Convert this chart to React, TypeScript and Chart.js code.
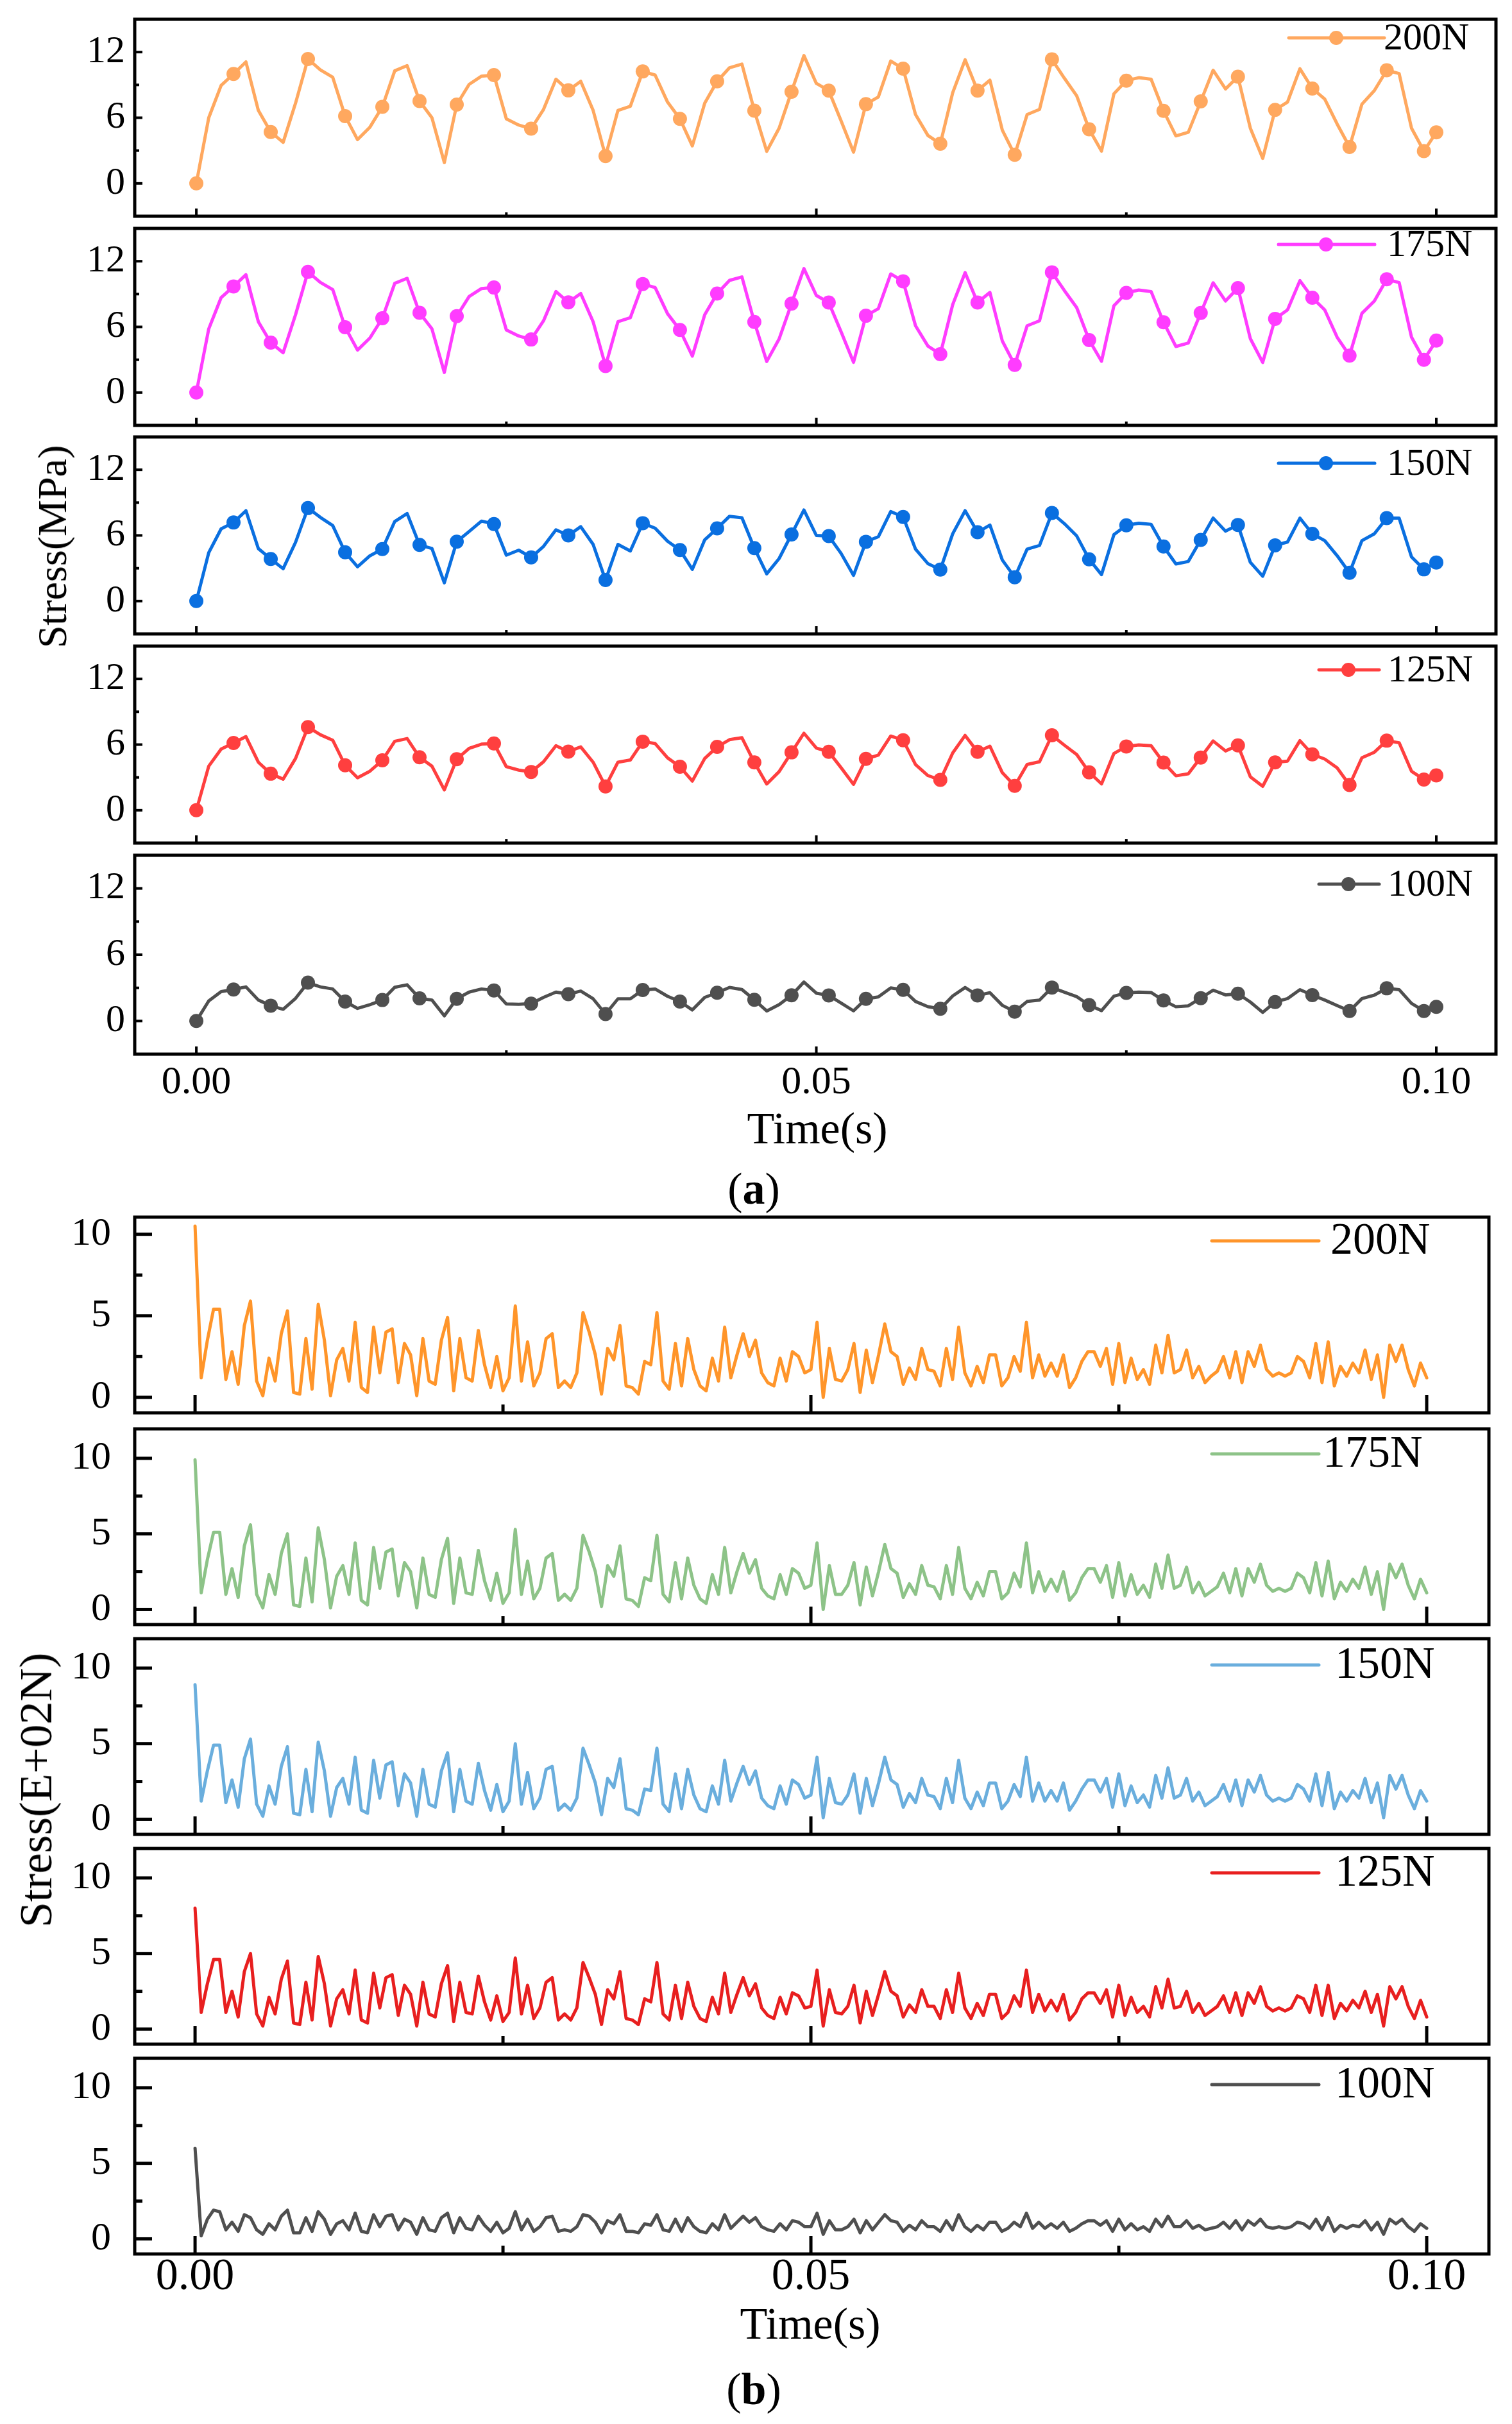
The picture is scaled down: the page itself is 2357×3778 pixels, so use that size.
import React, { useEffect, useRef } from "react";
import { Chart, registerables } from "chart.js";

Chart.register(...registerables);

const FONT = '"Liberation Serif", "Times New Roman", serif';
const PAGE_W = 2357;
const PAGE_H = 3778;

// ---------------- data ----------------
const TIME_STEP_A = 0.001; // s, figure (a)
const TIME_STEP_B = 0.0005; // s, figure (b)
const X_TICKS = [0, 0.05, 0.1];
const X_MINOR = [0.025, 0.075];
const Y_TICKS_A = [0, 6, 12];
const Y_MINOR_A = [3, 9];
const Y_TICKS_B = [0, 5, 10];
const Y_MINOR_B = [2.5, 7.5];
const LOADS = ["200N", "175N", "150N", "125N", "100N"];

const A_200N = [
  0, 6.0, 8.95, 10.0, 11.1, 6.67, 4.7, 3.75, 7.33, 11.37,
  10.38, 9.7, 6.15, 4.0, 5.14, 7.0, 10.29, 10.76, 7.52, 6.0,
  1.9, 7.2, 9.05, 9.8, 9.9, 5.9, 5.33, 5.0, 6.76, 9.52,
  8.5, 9.33, 6.67, 2.5, 6.67, 7.05, 10.23, 9.9, 7.43, 5.9,
  3.43, 7.33, 9.33, 10.57, 10.9, 6.65, 2.93, 5.05, 8.38, 11.68,
  9.14, 8.48, 5.71, 2.86, 7.24, 7.9, 11.18, 10.48, 6.29, 4.38,
  3.62, 8.29, 11.3, 8.48, 9.43, 4.86, 2.61, 6.29, 6.76, 11.33,
  9.62, 8.0, 4.95, 2.95, 8.19, 9.39, 9.66, 9.52, 6.63, 4.34,
  4.67, 7.49, 10.34, 8.63, 9.75, 5.05, 2.29, 6.72, 7.43, 10.48,
  8.67, 7.71, 5.43, 3.33, 7.24, 8.48, 10.34, 10.04, 5.05, 2.95,
  4.67,
];
const A_175N = [
  0, 5.82, 8.68, 9.7, 10.77, 6.47, 4.56, 3.64, 7.11, 11.03,
  10.07, 9.41, 5.97, 3.88, 4.99, 6.79, 9.98, 10.44, 7.29, 5.82,
  1.84, 6.98, 8.78, 9.51, 9.6, 5.72, 5.17, 4.85, 6.56, 9.23,
  8.25, 9.05, 6.47, 2.43, 6.47, 6.84, 9.92, 9.6, 7.21, 5.72,
  3.33, 7.11, 9.05, 10.25, 10.57, 6.45, 2.84, 4.9, 8.13, 11.33,
  8.87, 8.23, 5.54, 2.77, 7.02, 7.66, 10.84, 10.17, 6.1, 4.25,
  3.51, 8.04, 10.96, 8.23, 9.15, 4.71, 2.53, 6.1, 6.56, 10.99,
  9.33, 7.76, 4.8, 2.86, 7.94, 9.11, 9.37, 9.23, 6.43, 4.21,
  4.53, 7.27, 10.03, 8.37, 9.55, 4.93, 2.75, 6.74, 7.55, 10.23,
  8.67, 7.55, 5.06, 3.38, 7.24, 8.36, 10.35, 10.05, 5.06, 3.0,
  4.75,
];
const A_150N = [
  0, 4.42, 6.6, 7.18, 8.26, 4.8, 3.85, 2.96, 5.37, 8.5,
  7.65, 6.9, 4.46, 3.13, 4.14, 4.75, 7.27, 8.0, 5.13, 4.8,
  1.67, 5.43, 6.36, 7.31, 7.04, 4.2, 4.65, 3.99, 5.0, 6.51,
  6.0, 6.8, 5.18, 1.92, 5.18, 4.58, 7.12, 6.66, 5.47, 4.67,
  2.9, 5.6, 6.64, 7.75, 7.61, 4.84, 2.49, 3.89, 6.09, 8.32,
  6.0, 5.94, 4.35, 2.35, 5.42, 5.88, 8.18, 7.69, 4.75, 3.42,
  2.88, 6.15, 8.26, 6.29, 6.95, 3.75, 2.18, 4.75, 5.08, 8.05,
  7.08, 5.95, 3.82, 2.42, 6.08, 6.92, 7.11, 7.01, 4.99, 3.39,
  3.62, 5.59, 7.59, 6.39, 6.96, 3.54, 2.27, 5.09, 5.4, 7.58,
  6.15, 5.52, 4.15, 2.59, 5.52, 6.15, 7.58, 7.58, 4.03, 2.9,
  3.53,
];
const A_125N = [
  0, 4.03, 5.59, 6.15, 6.73, 4.39, 3.34, 2.84, 4.73, 7.6,
  6.9, 6.4, 4.11, 2.97, 3.57, 4.56, 6.3, 6.55, 4.84, 4.03,
  1.86, 4.67, 5.65, 6.04, 6.1, 3.98, 3.67, 3.5, 4.43, 5.9,
  5.36, 5.79, 4.39, 2.18, 4.39, 4.59, 6.27, 6.1, 4.79, 3.98,
  2.67, 4.73, 5.79, 6.45, 6.63, 4.37, 2.4, 3.53, 5.29, 7.04,
  5.69, 5.34, 3.88, 2.37, 4.69, 5.04, 6.78, 6.4, 4.18, 3.17,
  2.77, 5.24, 6.84, 5.34, 5.85, 3.43, 2.23, 4.18, 4.43, 6.85,
  5.95, 5.09, 3.47, 2.41, 5.19, 5.83, 5.97, 5.9, 4.36, 3.15,
  3.33, 4.82, 6.33, 5.42, 5.93, 3.06, 2.19, 4.37, 4.49, 6.36,
  5.11, 4.68, 3.87, 2.31, 4.8, 5.3, 6.36, 6.17, 3.56, 2.81,
  3.18,
];
const A_100N = [
  0, 1.82, 2.66, 2.85, 3.09, 1.9, 1.39, 1.06, 2.05, 3.47,
  3.09, 2.9, 1.76, 1.14, 1.48, 1.9, 3.05, 3.28, 2.05, 1.9,
  0.47, 2.01, 2.62, 2.9, 2.77, 1.54, 1.52, 1.57, 2.14, 2.62,
  2.43, 2.71, 2.01, 0.63, 2.01, 2.01, 2.81, 2.9, 2.24, 1.76,
  1.0, 2.14, 2.56, 3.04, 2.85, 1.92, 0.91, 1.48, 2.33, 3.53,
  2.52, 2.32, 1.63, 0.92, 2.01, 2.18, 3.0, 2.82, 1.77, 1.3,
  1.11, 2.27, 3.03, 2.32, 2.56, 1.42, 0.85, 1.77, 1.89, 3.03,
  2.61, 2.2, 1.44, 0.94, 2.25, 2.55, 2.62, 2.58, 1.86, 1.29,
  1.37, 2.07, 2.79, 2.36, 2.47, 1.72, 0.78, 1.72, 2.03, 2.84,
  2.34, 1.9, 1.4, 0.91, 2.03, 2.34, 2.96, 2.84, 1.59, 0.91,
  1.28,
];

const B_200N = [
  10.5, 1.2, 3.5, 5.4, 5.4, 1.1, 2.8, 0.8, 4.4, 5.9,
  1.0, 0.1, 2.4, 1.0, 3.9, 5.3, 0.3, 0.2, 3.6, 0.5,
  5.7, 3.5, 0.1, 2.3, 3.0, 1.0, 4.6, 0.6, 0.3, 4.3,
  1.5, 4.0, 4.2, 0.9, 3.3, 2.6, 0.1, 3.6, 1.0, 0.8,
  3.5, 4.9, 0.4, 3.6, 1.2, 1.0, 4.1, 2.0, 0.6, 2.5,
  0.4, 1.2, 5.6, 1.0, 3.4, 0.7, 1.5, 3.6, 3.9, 0.6,
  1.0, 0.6, 1.5, 5.2, 4.0, 2.6, 0.2, 3.0, 2.3, 4.4,
  0.7, 0.6, 0.2, 2.2, 2.0, 5.2, 1.0, 0.5, 3.3, 0.7,
  3.6, 1.7, 0.7, 0.4, 2.4, 1.0, 4.3, 1.2, 2.6, 3.9,
  2.5, 3.5, 1.5, 0.9, 0.7, 2.4, 1.0, 2.8, 2.5, 1.5,
  1.7, 4.6, 0.0, 3.0, 1.1, 1.0, 1.7, 3.3, 0.3, 2.9,
  0.9, 2.6, 4.5, 2.8, 2.5, 0.8, 1.8, 1.1, 3.0, 1.7,
  1.6, 0.7, 3.0, 1.1, 4.3, 1.5, 0.7, 1.9, 0.9, 2.6,
  2.6, 0.7, 1.2, 2.5, 1.6, 4.6, 1.2, 2.6, 1.3, 2.1,
  1.3, 2.6, 0.6, 1.2, 2.2, 2.8, 2.8, 1.9, 3.0, 0.8,
  3.3, 0.9, 2.4, 1.1, 1.7, 0.8, 3.2, 1.5, 3.8, 1.5,
  1.7, 2.9, 1.2, 1.9, 0.9, 1.3, 1.6, 2.5, 1.2, 2.8,
  0.9, 2.8, 1.9, 3.2, 1.7, 1.3, 1.5, 1.3, 1.5, 2.5,
  2.2, 1.2, 3.3, 0.9, 3.4, 0.7, 1.9, 1.3, 2.1, 1.5,
  2.9, 1.1, 2.6, 0.0, 3.2, 2.2, 3.2, 1.7, 0.7, 2.1,
  1.2,
];
const B_175N = [
  9.9, 1.1, 3.3, 5.1, 5.1, 1.0, 2.7, 0.8, 4.2, 5.6,
  1.0, 0.1, 2.3, 1.0, 3.7, 5.0, 0.3, 0.2, 3.4, 0.5,
  5.4, 3.3, 0.1, 2.2, 2.9, 1.0, 4.4, 0.6, 0.3, 4.1,
  1.4, 3.8, 4.0, 0.9, 3.1, 2.5, 0.1, 3.4, 1.0, 0.8,
  3.3, 4.7, 0.4, 3.4, 1.1, 1.0, 3.9, 1.9, 0.6, 2.4,
  0.4, 1.1, 5.3, 1.0, 3.2, 0.7, 1.4, 3.4, 3.7, 0.6,
  1.0, 0.6, 1.4, 4.9, 3.8, 2.5, 0.2, 2.9, 2.2, 4.2,
  0.7, 0.6, 0.2, 2.1, 1.9, 4.9, 1.0, 0.5, 3.1, 0.7,
  3.4, 1.6, 0.7, 0.4, 2.3, 1.0, 4.1, 1.1, 2.5, 3.7,
  2.4, 3.3, 1.4, 0.9, 0.7, 2.3, 1.0, 2.7, 2.4, 1.4,
  1.6, 4.4, 0.0, 2.9, 1.0, 1.0, 1.6, 3.1, 0.3, 2.8,
  0.9, 2.5, 4.3, 2.7, 2.4, 0.8, 1.7, 1.0, 2.9, 1.6,
  1.5, 0.7, 2.9, 1.0, 4.1, 1.4, 0.7, 1.8, 0.9, 2.5,
  2.5, 0.7, 1.1, 2.4, 1.5, 4.4, 1.1, 2.5, 1.2, 2.0,
  1.2, 2.5, 0.6, 1.1, 2.1, 2.7, 2.7, 1.8, 2.9, 0.8,
  3.1, 0.9, 2.3, 1.0, 1.6, 0.8, 3.0, 1.4, 3.6, 1.4,
  1.6, 2.8, 1.1, 1.8, 0.9, 1.2, 1.5, 2.4, 1.1, 2.7,
  0.9, 2.7, 1.8, 3.0, 1.6, 1.2, 1.4, 1.2, 1.4, 2.4,
  2.1, 1.1, 3.1, 0.9, 3.2, 0.7, 1.8, 1.2, 2.0, 1.4,
  2.8, 1.0, 2.5, 0.0, 3.0, 2.1, 3.0, 1.6, 0.7, 2.0,
  1.1,
];
const B_150N = [
  8.9, 1.2, 3.2, 4.9, 4.9, 1.1, 2.6, 0.8, 4.0, 5.3,
  1.0, 0.2, 2.2, 1.0, 3.5, 4.8, 0.4, 0.3, 3.3, 0.5,
  5.1, 3.2, 0.2, 2.1, 2.7, 1.0, 4.1, 0.6, 0.4, 3.9,
  1.4, 3.6, 3.8, 0.9, 3.0, 2.4, 0.2, 3.3, 1.0, 0.8,
  3.2, 4.4, 0.5, 3.3, 1.2, 1.0, 3.7, 1.9, 0.6, 2.3,
  0.5, 1.2, 5.0, 1.0, 3.1, 0.7, 1.4, 3.3, 3.5, 0.6,
  1.0, 0.6, 1.4, 4.7, 3.6, 2.4, 0.3, 2.7, 2.1, 4.0,
  0.7, 0.6, 0.3, 2.0, 1.9, 4.7, 1.0, 0.5, 3.0, 0.7,
  3.3, 1.6, 0.7, 0.5, 2.2, 1.0, 3.9, 1.2, 2.4, 3.5,
  2.3, 3.2, 1.4, 0.9, 0.7, 2.2, 1.0, 2.6, 2.3, 1.4,
  1.6, 4.1, 0.1, 2.7, 1.1, 1.0, 1.6, 3.0, 0.4, 2.7,
  0.9, 2.4, 4.1, 2.6, 2.3, 0.8, 1.7, 1.1, 2.7, 1.6,
  1.5, 0.7, 2.7, 1.1, 3.9, 1.4, 0.7, 1.8, 0.9, 2.4,
  2.4, 0.7, 1.2, 2.3, 1.5, 4.1, 1.2, 2.4, 1.2, 1.9,
  1.2, 2.4, 0.6, 1.2, 2.0, 2.6, 2.6, 1.8, 2.7, 0.8,
  3.0, 0.9, 2.2, 1.1, 1.6, 0.8, 2.9, 1.4, 3.4, 1.4,
  1.6, 2.7, 1.2, 1.8, 0.9, 1.2, 1.5, 2.3, 1.2, 2.6,
  0.9, 2.6, 1.8, 2.9, 1.6, 1.2, 1.4, 1.2, 1.4, 2.3,
  2.0, 1.2, 3.0, 0.9, 3.1, 0.7, 1.8, 1.2, 1.9, 1.4,
  2.7, 1.1, 2.4, 0.1, 2.9, 2.0, 2.9, 1.6, 0.7, 1.9,
  1.2,
];
const B_125N = [
  8.0, 1.1, 3.0, 4.6, 4.6, 1.1, 2.5, 0.8, 3.8, 5.0,
  1.0, 0.2, 2.1, 1.0, 3.3, 4.5, 0.4, 0.3, 3.1, 0.6,
  4.8, 3.0, 0.2, 2.0, 2.6, 1.0, 3.9, 0.6, 0.4, 3.7,
  1.4, 3.4, 3.6, 0.9, 2.9, 2.3, 0.2, 3.1, 1.0, 0.8,
  3.0, 4.2, 0.5, 3.1, 1.1, 1.0, 3.5, 1.8, 0.6, 2.2,
  0.5, 1.1, 4.7, 1.0, 2.9, 0.7, 1.4, 3.1, 3.4, 0.6,
  1.0, 0.6, 1.4, 4.4, 3.4, 2.3, 0.3, 2.6, 2.0, 3.8,
  0.7, 0.6, 0.3, 2.0, 1.8, 4.4, 1.0, 0.6, 2.9, 0.7,
  3.1, 1.5, 0.7, 0.5, 2.1, 1.0, 3.7, 1.1, 2.3, 3.4,
  2.2, 3.0, 1.4, 0.9, 0.7, 2.1, 1.0, 2.4, 2.2, 1.4,
  1.5, 3.9, 0.2, 2.6, 1.1, 1.0, 1.5, 2.9, 0.4, 2.5,
  0.9, 2.3, 3.8, 2.5, 2.2, 0.8, 1.6, 1.1, 2.6, 1.5,
  1.5, 0.7, 2.6, 1.1, 3.7, 1.4, 0.7, 1.7, 0.9, 2.3,
  2.3, 0.7, 1.1, 2.2, 1.5, 3.9, 1.1, 2.3, 1.2, 1.9,
  1.2, 2.3, 0.6, 1.1, 2.0, 2.4, 2.4, 1.7, 2.6, 0.8,
  2.9, 0.9, 2.1, 1.1, 1.5, 0.8, 2.8, 1.4, 3.3, 1.4,
  1.5, 2.5, 1.1, 1.7, 0.9, 1.2, 1.5, 2.2, 1.1, 2.4,
  0.9, 2.4, 1.7, 2.8, 1.5, 1.2, 1.4, 1.2, 1.4, 2.2,
  2.0, 1.1, 2.9, 0.9, 2.9, 0.7, 1.7, 1.2, 1.9, 1.4,
  2.5, 1.1, 2.3, 0.2, 2.8, 2.0, 2.8, 1.5, 0.7, 1.9,
  0.8,
];
const B_100N = [
  6.0, 0.2, 1.3, 1.9, 1.8, 0.6, 1.1, 0.5, 1.6, 1.4,
  0.6, 0.3, 1.0, 0.6, 1.5, 1.9, 0.4, 0.4, 1.4, 0.5,
  1.8, 1.3, 0.3, 1.0, 1.2, 0.6, 1.7, 0.5, 0.4, 1.6,
  0.8, 1.5, 1.6, 0.6, 1.3, 1.1, 0.3, 1.4, 0.6, 0.5,
  1.4, 1.7, 0.4, 1.4, 0.7, 0.6, 1.5, 0.9, 0.5, 1.1,
  0.4, 0.7, 1.8, 0.6, 1.3, 0.5, 0.8, 1.4, 1.5, 0.5,
  0.6, 0.5, 0.8, 1.6, 1.5, 1.1, 0.4, 1.2, 1.0, 1.6,
  0.5, 0.5, 0.4, 1.0, 0.9, 1.6, 0.6, 0.5, 1.3, 0.5,
  1.4, 0.8, 0.5, 0.4, 1.0, 0.6, 1.6, 0.7, 1.1, 1.5,
  1.1, 1.4, 0.8, 0.6, 0.5, 1.0, 0.6, 1.2, 1.1, 0.8,
  0.8, 1.7, 0.3, 1.2, 0.6, 0.6, 0.8, 1.3, 0.4, 1.2,
  0.6, 1.1, 1.6, 1.2, 1.1, 0.5, 0.9, 0.6, 1.2, 0.8,
  0.8, 0.5, 1.2, 0.6, 1.6, 0.8, 0.5, 0.9, 0.6, 1.1,
  1.1, 0.5, 0.7, 1.1, 0.8, 1.7, 0.7, 1.1, 0.7, 1.0,
  0.7, 1.1, 0.5, 0.7, 1.0, 1.2, 1.2, 0.9, 1.2, 0.5,
  1.3, 0.6, 1.0, 0.6, 0.8, 0.5, 1.3, 0.8, 1.5, 0.8,
  0.8, 1.2, 0.7, 0.9, 0.6, 0.7, 0.8, 1.1, 0.7, 1.2,
  0.6, 1.2, 0.9, 1.3, 0.8, 0.7, 0.8, 0.7, 0.8, 1.1,
  1.0, 0.7, 1.3, 0.6, 1.4, 0.5, 0.9, 0.7, 0.9, 0.8,
  1.2, 0.6, 1.1, 0.3, 1.3, 1.0, 1.3, 0.8, 0.5, 1.0,
  0.7,
];

const SERIES_A = [A_200N, A_175N, A_150N, A_125N, A_100N];
const SERIES_B = [B_200N, B_175N, B_150N, B_125N, B_100N];

// ---------------- styles / layout ----------------
const COLORS_A = ["#FFA85F", "#FF3CFF", "#0A6FE0", "#FF3F3F", "#4F4F4F"];
const COLORS_B = ["#FF952A", "#8DC388", "#6AAEDD", "#E81F1F", "#4F4F4F"];

const A_TOPS = [27, 353, 678, 1004, 1330];
const A_H = 313;
const B_TOPS = [1897, 2227, 2554, 2881, 3208];
const B_H = 305;
const BOX_LEFT = 210;

const A_LEGEND = [
  { x1: 2009, x2: 2158, xm: 2083, xt: 2157, dy: 29 },
  { x1: 1993, x2: 2143, xm: 2067, xt: 2162, dy: 25 },
  { x1: 1993, x2: 2143, xm: 2067, xt: 2162, dy: 41 },
  { x1: 2056, x2: 2150, xm: 2102, xt: 2163, dy: 37 },
  { x1: 2056, x2: 2150, xm: 2102, xt: 2163, dy: 45 },
];
const B_LEGEND = [
  { x1: 1889, x2: 2056, xm: 0, xt: 2074, dy: 37 },
  { x1: 1889, x2: 2056, xm: 0, xt: 2062, dy: 39 },
  { x1: 1889, x2: 2056, xm: 0, xt: 2081, dy: 41 },
  { x1: 1889, x2: 2056, xm: 0, xt: 2081, dy: 38 },
  { x1: 1889, x2: 2056, xm: 0, xt: 2081, dy: 41 },
];

type Spec = {
  key: string;
  top: number;
  height: number;
  right: number;
  xMin: number;
  xMax: number;
  yMin: number;
  yMax: number;
  yTicks: number[];
  yMinor: number[];
  values: number[];
  step: number;
  color: string;
  label: string;
  markers: boolean;
  isBottom: boolean;
  xFont: number;
  xPad: number;
  yFont: number;
  yPad: number;
  yMajLen: number;
  yMinLen: number;
  xMajLen: number;
  xMinLen: number;
  tickW: number;
  legend: { x1: number; x2: number; xm: number; xt: number; dy: number };
  legendFont: number;
};

const PAD = 8;
const AX_H = 90;

function Panel({ s }: { s: Spec }) {
  const ref = useRef<HTMLCanvasElement | null>(null);
  const canvasH = PAD + s.height + (s.isBottom ? AX_H : PAD);
  useEffect(() => {
    if (!ref.current) return;
    const pts = s.values.map((v, i) => ({ x: +(i * s.step).toFixed(5), y: v }));
    const radii = s.values.map((_, i) =>
      s.markers && (i % 3 === 0 || i === s.values.length - 1) ? 11 : 0
    );
    const decor = {
      id: "decor" + s.key,
      afterDraw(chart: any) {
        const { ctx, chartArea: ca, scales } = chart;
        const xs = scales.x;
        const ys = scales.y;
        ctx.save();
        ctx.strokeStyle = "#000";
        ctx.lineCap = "butt";
        ctx.lineWidth = s.tickW;
        const seg = (x1: number, y1: number, x2: number, y2: number) => {
          ctx.beginPath();
          ctx.moveTo(x1, y1);
          ctx.lineTo(x2, y2);
          ctx.stroke();
        };
        s.yTicks.forEach((v) => {
          const y = ys.getPixelForValue(v);
          seg(ca.left, y, ca.left + s.yMajLen, y);
        });
        s.yMinor.forEach((v) => {
          const y = ys.getPixelForValue(v);
          seg(ca.left, y, ca.left + s.yMinLen, y);
        });
        X_TICKS.forEach((v) => {
          const x = xs.getPixelForValue(v);
          seg(x, ca.bottom, x, ca.bottom - s.xMajLen);
        });
        X_MINOR.forEach((v) => {
          const x = xs.getPixelForValue(v);
          seg(x, ca.bottom, x, ca.bottom - s.xMinLen);
        });
        ctx.lineWidth = 5;
        ctx.strokeRect(ca.left, ca.top, ca.right - ca.left, ca.bottom - ca.top);
        // legend
        const L = s.legend;
        const ly = ca.top + L.dy;
        ctx.strokeStyle = s.color;
        ctx.lineWidth = 5;
        ctx.lineCap = "round";
        seg(L.x1, ly, L.x2, ly);
        if (s.markers) {
          ctx.fillStyle = s.color;
          ctx.beginPath();
          ctx.arc(L.xm, ly, 11, 0, Math.PI * 2);
          ctx.fill();
        }
        ctx.fillStyle = "#000";
        ctx.font = `${s.legendFont}px ${FONT}`;
        ctx.textAlign = "left";
        ctx.textBaseline = "middle";
        ctx.fillText(s.label, L.xt, ly + 2);
        ctx.restore();
      },
    };
    const chart = new Chart(ref.current, {
      type: "line",
      data: {
        datasets: [
          {
            label: s.label,
            data: pts,
            borderColor: s.color,
            backgroundColor: s.color,
            borderWidth: 5,
            pointRadius: radii,
            pointHoverRadius: 0,
            pointBackgroundColor: s.color,
            pointBorderWidth: 0,
            tension: 0,
            fill: false,
            borderJoinStyle: "round",
            borderCapStyle: "round",
          } as any,
        ],
      },
      options: {
        responsive: false,
        maintainAspectRatio: false,
        animation: false,
        devicePixelRatio: 1,
        events: [],
        layout: {
          padding: {
            left: 0,
            top: PAD,
            right: PAGE_W - s.right,
            bottom: s.isBottom ? 0 : PAD,
          },
        },
        plugins: {
          legend: { display: false },
          tooltip: { enabled: false },
          title: { display: false },
        },
        scales: {
          x: {
            type: "linear",
            min: s.xMin,
            max: s.xMax,
            display: s.isBottom,
            grid: { display: false, drawTicks: false, tickLength: 0 },
            border: { display: false },
            ticks: {
              display: s.isBottom,
              autoSkip: false,
              maxRotation: 0,
              minRotation: 0,
              padding: s.xPad,
              color: "#000",
              font: { family: FONT, size: s.xFont, lineHeight: 1 },
              callback: (v: any) => Number(v).toFixed(2),
            },
            afterBuildTicks: (axis: any) => {
              axis.ticks = X_TICKS.map((v) => ({ value: v }));
            },
            afterFit: (axis: any) => {
              axis.height = s.isBottom ? AX_H : 0;
              axis.paddingLeft = 0;
              axis.paddingRight = 0;
              axis.paddingTop = 0;
              axis.paddingBottom = 0;
            },
          },
          y: {
            type: "linear",
            min: s.yMin,
            max: s.yMax,
            display: true,
            grid: { display: false, drawTicks: false, tickLength: 0 },
            border: { display: false },
            ticks: {
              autoSkip: false,
              padding: s.yPad,
              color: "#000",
              font: { family: FONT, size: s.yFont, lineHeight: 1 },
              callback: (v: any) => String(v),
            },
            afterBuildTicks: (axis: any) => {
              axis.ticks = s.yTicks.map((v) => ({ value: v }));
            },
            afterFit: (axis: any) => {
              axis.width = BOX_LEFT;
              axis.paddingLeft = 0;
              axis.paddingRight = 0;
              axis.paddingTop = 0;
              axis.paddingBottom = 0;
            },
          },
        },
      } as any,
      plugins: [decor],
    });
    return () => chart.destroy();
  }, []);
  return (
    <canvas
      ref={ref}
      width={PAGE_W}
      height={canvasH}
      style={{
        position: "absolute",
        left: 0,
        top: s.top - PAD,
        width: PAGE_W,
        height: canvasH,
      }}
    />
  );
}

function Text({
  x,
  y,
  size,
  rotate,
  children,
}: {
  x: number;
  y: number;
  size: number;
  rotate?: boolean;
  children: React.ReactNode;
}) {
  return (
    <div
      style={{
        position: "absolute",
        left: x,
        top: y,
        transform: `translate(-50%, -50%)${rotate ? " rotate(-90deg)" : ""}`,
        fontFamily: FONT,
        fontSize: size,
        lineHeight: 1,
        whiteSpace: "nowrap",
        color: "#000",
      }}
    >
      {children}
    </div>
  );
}

export default function App() {
  const specsA: Spec[] = SERIES_A.map((vals, i) => ({
    key: "a" + i,
    top: A_TOPS[i],
    height: A_H,
    right: 2332,
    xMin: -0.00497,
    xMax: 0.10481,
    yMin: -3,
    yMax: 15,
    yTicks: Y_TICKS_A,
    yMinor: Y_MINOR_A,
    values: vals,
    step: TIME_STEP_A,
    color: COLORS_A[i],
    label: LOADS[i],
    markers: true,
    isBottom: i === 4,
    xFont: 62,
    xPad: 14,
    yFont: 60,
    yPad: 15,
    yMajLen: 12,
    yMinLen: 7,
    xMajLen: 12,
    xMinLen: 6,
    tickW: 4,
    legend: A_LEGEND[i],
    legendFont: 60,
  }));
  const specsB: Spec[] = SERIES_B.map((vals, i) => ({
    key: "b" + i,
    top: B_TOPS[i],
    height: B_H,
    right: 2321,
    xMin: -0.0049,
    xMax: 0.10505,
    yMin: i === 0 ? -0.95 : -1.0,
    yMax: i === 0 ? 11.05 : 11.95,
    yTicks: Y_TICKS_B,
    yMinor: Y_MINOR_B,
    values: vals,
    step: TIME_STEP_B,
    color: COLORS_B[i],
    label: LOADS[i],
    markers: false,
    isBottom: i === 4,
    xFont: 70,
    xPad: 2,
    yFont: 62,
    yPad: 37,
    yMajLen: 27,
    yMinLen: 12,
    xMajLen: 28,
    xMinLen: 13,
    tickW: 5,
    legend: B_LEGEND[i],
    legendFont: 70,
  }));
  return (
    <div
      style={{
        position: "absolute",
        left: 0,
        top: 0,
        width: PAGE_W,
        height: PAGE_H,
        background: "#fff",
        overflow: "hidden",
      }}
    >
      {specsA.map((s) => (
        <Panel key={s.key} s={s} />
      ))}
      {specsB.map((s) => (
        <Panel key={s.key} s={s} />
      ))}
      <Text x={82} y={852} size={64} rotate>
        Stress(MPa)
      </Text>
      <Text x={1274} y={1759} size={70}>
        Time(s)
      </Text>
      <Text x={1175} y={1853} size={70}>
        (<b>a</b>)
      </Text>
      <Text x={56} y={2790} size={72} rotate>
        Stress(E+02N)
      </Text>
      <Text x={1263} y={3622} size={70}>
        Time(s)
      </Text>
      <Text x={1175} y={3724} size={70}>
        (<b>b</b>)
      </Text>
    </div>
  );
}
